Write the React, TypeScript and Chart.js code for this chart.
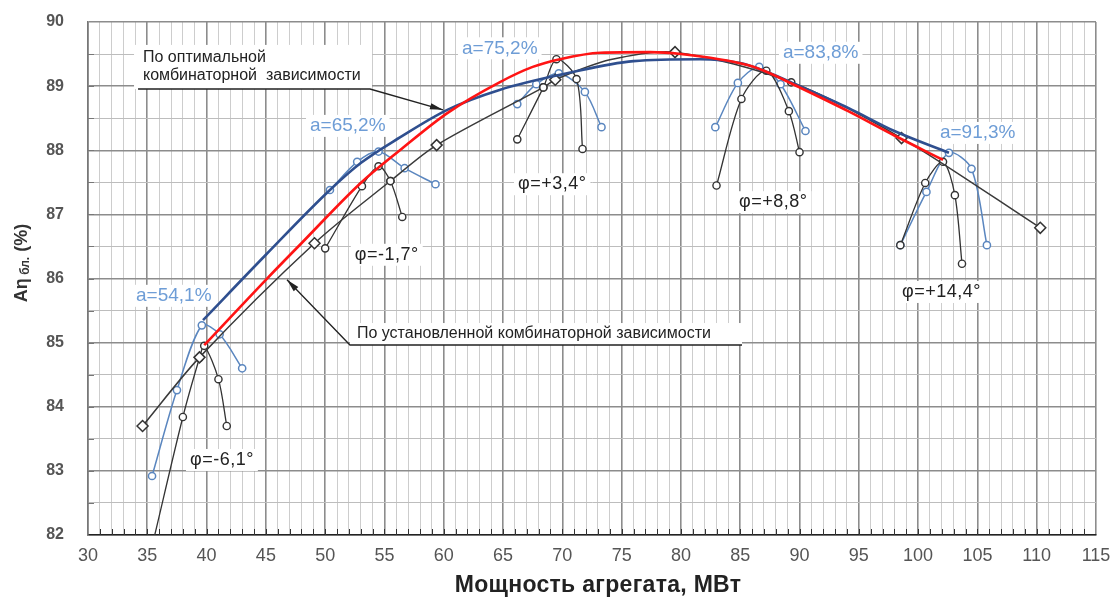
import React, { useEffect, useRef } from 'react';
import { Chart, registerables } from 'chart.js';

Chart.register(...registerables);

// ---- axes ----
const X_MIN = 30;
const X_MAX = 115;
const Y_MIN = 82;
const Y_MAX = 90;

// ---- optimal combinator curve (red) ----
const redX = [39.8, 45, 48, 53, 56.3, 60.3, 64.7, 67.5, 69.8, 73.2, 77.4, 80, 85.6, 87, 90, 94.1, 98, 102.1];
const redY = [84.96, 85.98, 86.55, 87.49, 88.0, 88.58, 89.06, 89.3, 89.42, 89.52, 89.53, 89.5, 89.33, 89.24, 88.98, 88.61, 88.23, 87.85];

// ---- optimal envelope (dark blue) ----
const envX = [39.7, 45, 50.4, 53, 56.3, 60.3, 64.7, 70.4, 76, 81.6, 85, 87, 90, 94.1, 98, 102.6];
const envY = [85.35, 86.37, 87.38, 87.8, 88.2, 88.63, 88.94, 89.2, 89.39, 89.42, 89.36, 89.24, 89.0, 88.66, 88.3, 87.96];

// ---- installed combinator curve (black with diamonds) ----
const instX = [34.6, 39.4, 49.1, 55.5, 59.4, 68.4, 69.4, 74.0, 79.5, 89.3, 98.6, 110.3];
const instY = [83.7, 84.77, 86.55, 87.52, 88.08, 88.98, 89.1, 89.41, 89.53, 89.06, 88.19, 86.79];
const instMarker = ['d', 'd', 'd', 'c', 'd', 'c', 'd', 'n', 'd', 'c', 'd', 'd'];

// ---- propeller-blade angle curves (black) ----
const phiNames = ['φ=-6,1°', 'φ=-1,7°', 'φ=+3,4°', 'φ=+8,8°', 'φ=+14,4°'];
const phiM61X = [35.5, 38.0, 39.4, 39.8, 41.0, 41.7];
const phiM61Y = [81.9, 83.84, 84.76, 84.95, 84.43, 83.7];
const phiM17X = [50.0, 53.1, 54.5, 55.5, 56.5];
const phiM17Y = [86.47, 87.44, 87.75, 87.52, 86.96];
const phiP34X = [66.2, 68.4, 69.5, 71.2, 71.7];
const phiP34Y = [88.17, 88.98, 89.42, 89.11, 88.02];
const phiP88X = [83.0, 85.1, 87.2, 89.1, 90.0];
const phiP88Y = [87.45, 88.8, 89.24, 88.61, 87.97];
const phiP144X = [98.5, 100.6, 102.1, 103.1, 103.7];
const phiP144Y = [86.52, 87.49, 87.82, 87.3, 86.23];

// ---- guide-vane opening curves (blue) ----
const aNames = ['a=54,1%', 'a=65,2%', 'a=75,2%', 'a=83,8%', 'a=91,3%'];
const a541X = [35.4, 37.5, 39.6, 41.1, 43.0];
const a541Y = [82.92, 84.26, 85.27, 85.13, 84.6];
const a652X = [50.4, 52.7, 54.5, 56.7, 59.3];
const a652Y = [87.38, 87.82, 87.98, 87.72, 87.47];
const a752X = [66.2, 67.8, 69.7, 71.9, 73.3];
const a752Y = [88.72, 89.03, 89.2, 88.91, 88.36];
const a838X = [82.9, 84.8, 86.6, 88.4, 90.5];
const a838Y = [88.36, 89.05, 89.3, 89.03, 88.3];
const a913X = [98.5, 100.7, 102.6, 104.5, 105.8];
const a913Y = [86.52, 87.35, 87.96, 87.71, 86.52];

// ---- label anchors (data units) ----
const aLabelX = [34.05, 48.72, 61.54, 88.6, 101.84];
const aLabelY = [85.73, 88.38, 89.59, 89.52, 88.27];
const phiLabelX = [38.6, 52.5, 66.26, 84.9, 98.64];
const phiLabelY = [83.17, 86.37, 87.47, 87.19, 85.79];

const optNoteLines = ['По оптимальной', 'комбинаторной  зависимости'];
const optNoteX = 34.64;
const optNoteY = [89.44, 89.16];
const optLeader = { x1: 34.22, x2: 53.78, y: 88.955, tipX: 59.93, tipY: 88.63 };

const instNote = 'По установленной комбинаторной зависимости';
const instNoteX = 52.68;
const instNoteY = 85.134;
const instLeader = { x1: 52.09, x2: 85.15, y: 84.963, tipX: 46.78, tipY: 85.98 };

const xTitle = 'Мощность агрегата, МВт';

const FONT = "'Liberation Sans', Arial, sans-serif";

const zip = (xs: number[], ys: number[]) => xs.map((x, i) => ({ x, y: ys[i] }));

const BLACK = '#333333';
const BLUE = '#5a86bf';

function phiDataset(xs: number[], ys: number[], hideFirst = false) {
  return {
    data: zip(xs, ys),
    borderColor: BLACK,
    borderWidth: 1.3,
    pointRadius: xs.map((_, i) => (hideFirst && i === 0 ? 0 : 3.6)),
    pointBackgroundColor: '#ffffff',
    pointBorderColor: BLACK,
    pointBorderWidth: 1.4,
    tension: 0.3,
  };
}
function aDataset(xs: number[], ys: number[]) {
  return {
    data: zip(xs, ys),
    borderColor: BLUE,
    borderWidth: 1.5,
    pointRadius: 3.6,
    pointBackgroundColor: '#ffffff',
    pointBorderColor: BLUE,
    pointBorderWidth: 1.5,
    tension: 0.3,
  };
}

function arrow(ctx: CanvasRenderingContext2D, fx: number, fy: number, tx: number, ty: number) {
  const ang = Math.atan2(ty - fy, tx - fx);
  const L = 13;
  const W = 3.2;
  ctx.beginPath();
  ctx.moveTo(tx, ty);
  ctx.lineTo(tx - L * Math.cos(ang) + W * Math.sin(ang), ty - L * Math.sin(ang) - W * Math.cos(ang));
  ctx.lineTo(tx - L * Math.cos(ang) - W * Math.sin(ang), ty - L * Math.sin(ang) + W * Math.cos(ang));
  ctx.closePath();
  ctx.fill();
}

function boxedText(
  ctx: CanvasRenderingContext2D,
  text: string,
  x: number,
  y: number,
  font: string,
  color: string,
  spacing = '0px',
) {
  ctx.font = font;
  (ctx as any).letterSpacing = spacing;
  ctx.textAlign = 'left';
  ctx.textBaseline = 'middle';
  const w = ctx.measureText(text).width;
  ctx.fillStyle = '#ffffff';
  ctx.fillRect(x - 4, y - 11, w + 8, 22);
  ctx.fillStyle = color;
  ctx.fillText(text, x, y);
  (ctx as any).letterSpacing = '0px';
}

const decorPlugin = {
  id: 'decor',
  beforeDatasetsDraw(chart: any) {
    const { ctx, chartArea, scales } = chart;
    const sx = scales.x;
    const sy = scales.y;
    ctx.save();
    // inner tick marks
    ctx.strokeStyle = '#333';
    ctx.lineWidth = 1;
    for (let v = X_MIN + 1; v < X_MAX; v++) {
      const px = Math.round(sx.getPixelForValue(v)) + 0.5;
      ctx.beginPath();
      ctx.moveTo(px, chartArea.bottom);
      ctx.lineTo(px, chartArea.bottom - 6);
      ctx.stroke();
    }
    ctx.strokeStyle = '#777';
    for (let v = Y_MIN + 0.5; v < Y_MAX; v += 0.5) {
      const py = Math.round(sy.getPixelForValue(v)) + 0.5;
      ctx.beginPath();
      ctx.moveTo(chartArea.left, py);
      ctx.lineTo(chartArea.left + 6, py);
      ctx.stroke();
    }

    // blue "a=" labels
    aNames.forEach((t, i) => {
      boxedText(ctx, t, sx.getPixelForValue(aLabelX[i]), sy.getPixelForValue(aLabelY[i]), `19px ${FONT}`, '#6e9dd6');
    });
    // phi labels
    phiNames.forEach((t, i) => {
      boxedText(ctx, t, sx.getPixelForValue(phiLabelX[i]), sy.getPixelForValue(phiLabelY[i]), `18px ${FONT}`, '#222', '0.5px');
    });

    // optimal note box
    ctx.font = `16px ${FONT}`;
    const ox = sx.getPixelForValue(optNoteX);
    const oy0 = sy.getPixelForValue(optNoteY[0]);
    const oy1 = sy.getPixelForValue(optNoteY[1]);
    const lx1 = sx.getPixelForValue(optLeader.x1);
    const lx2 = sx.getPixelForValue(optLeader.x2);
    const ly = sy.getPixelForValue(optLeader.y);
    ctx.fillStyle = '#ffffff';
    ctx.fillRect(lx1 - 4, oy0 - 13, lx2 - lx1 + 6, ly - oy0 + 13);
    ctx.fillStyle = '#222';
    ctx.textAlign = 'left';
    ctx.textBaseline = 'middle';
    ctx.fillText(optNoteLines[0], ox, oy0);
    ctx.fillText(optNoteLines[1], ox, oy1);

    // installed note box
    const ix = sx.getPixelForValue(instNoteX);
    const iy = sy.getPixelForValue(instNoteY);
    const ilx1 = sx.getPixelForValue(instLeader.x1);
    const ilx2 = sx.getPixelForValue(instLeader.x2);
    const ily = sy.getPixelForValue(instLeader.y);
    ctx.fillStyle = '#ffffff';
    ctx.fillRect(ilx1, iy - 11, ilx2 - ilx1, ily - iy + 11);
    ctx.fillStyle = '#222';
    ctx.fillText(instNote, ix, iy);
    ctx.restore();
  },
  afterDatasetsDraw(chart: any) {
    const { ctx, scales } = chart;
    const sx = scales.x;
    const sy = scales.y;
    ctx.save();
    ctx.strokeStyle = '#222';
    ctx.fillStyle = '#222';
    ctx.lineWidth = 1.3;
    // optimal leader
    {
      const x1 = sx.getPixelForValue(optLeader.x1);
      const x2 = sx.getPixelForValue(optLeader.x2);
      const y = sy.getPixelForValue(optLeader.y);
      const tx = sx.getPixelForValue(optLeader.tipX);
      const ty = sy.getPixelForValue(optLeader.tipY);
      ctx.beginPath();
      ctx.moveTo(x1, y);
      ctx.lineTo(x2, y);
      ctx.lineTo(tx, ty);
      ctx.stroke();
      arrow(ctx, x2, y, tx, ty);
    }
    // installed leader
    {
      const x1 = sx.getPixelForValue(instLeader.x1);
      const x2 = sx.getPixelForValue(instLeader.x2);
      const y = sy.getPixelForValue(instLeader.y);
      const tx = sx.getPixelForValue(instLeader.tipX);
      const ty = sy.getPixelForValue(instLeader.tipY);
      ctx.beginPath();
      ctx.moveTo(x2, y);
      ctx.lineTo(x1, y);
      ctx.lineTo(tx, ty);
      ctx.stroke();
      arrow(ctx, x1, y, tx, ty);
    }
    ctx.restore();
  },
  afterDraw(chart: any) {
    const { ctx, chartArea } = chart;
    ctx.save();
    // x title
    ctx.font = `bold 23px ${FONT}`;
    (ctx as any).letterSpacing = '0.3px';
    ctx.fillStyle = '#222';
    ctx.textAlign = 'center';
    ctx.textBaseline = 'middle';
    ctx.fillText(xTitle, (chartArea.left + chartArea.right) / 2 + 6, 586);
    (ctx as any).letterSpacing = '0px';
    // y title with subscript
    ctx.translate(22, 263);
    ctx.rotate(-Math.PI / 2);
    const parts = [
      { t: 'Aη', f: `bold 18px ${FONT}`, dy: 0 },
      { t: ' бл.', f: `bold 12px ${FONT}`, dy: 4 },
      { t: ' (%)', f: `bold 18px ${FONT}`, dy: 0 },
    ];
    let total = 0;
    parts.forEach((p) => {
      ctx.font = p.f;
      total += ctx.measureText(p.t).width;
    });
    let cx = -total / 2;
    ctx.textAlign = 'left';
    ctx.fillStyle = '#333';
    parts.forEach((p) => {
      ctx.font = p.f;
      ctx.fillText(p.t, cx, p.dy);
      cx += ctx.measureText(p.t).width;
    });
    ctx.restore();
  },
};

const zeroPad = (s: any) => {
  s.paddingTop = 0;
  s.paddingBottom = 0;
  s.paddingLeft = 0;
  s.paddingRight = 0;
};

export default function App() {
  const ref = useRef<HTMLCanvasElement>(null);
  useEffect(() => {
    document.body.style.margin = '0';
    const instRadius = instMarker.map((m) => (m === 'd' ? 5.5 : m === 'c' ? 3.6 : 0));
    const instStyle = instMarker.map((m) => (m === 'd' ? 'rectRot' : 'circle'));
    const chart = new Chart(ref.current as HTMLCanvasElement, {
      type: 'line',
      data: {
        datasets: [
          {
            data: zip(redX, redY),
            borderColor: '#ff1414',
            borderWidth: 2.6,
            pointRadius: 0,
            cubicInterpolationMode: 'monotone',
          },
          {
            data: zip(envX, envY),
            borderColor: '#2f4f8f',
            borderWidth: 2.6,
            pointRadius: 0,
            cubicInterpolationMode: 'monotone',
          },
          {
            data: zip(instX, instY),
            borderColor: '#3a3a3a',
            borderWidth: 1.5,
            pointRadius: instRadius,
            pointStyle: instStyle,
            pointBackgroundColor: '#ffffff',
            pointBorderColor: '#333',
            pointBorderWidth: 1.5,
            tension: 0.3,
          },
          phiDataset(phiM61X, phiM61Y, true),
          phiDataset(phiM17X, phiM17Y),
          phiDataset(phiP34X, phiP34Y),
          phiDataset(phiP88X, phiP88Y),
          phiDataset(phiP144X, phiP144Y),
          aDataset(a541X, a541Y),
          aDataset(a652X, a652Y),
          aDataset(a752X, a752Y),
          aDataset(a838X, a838Y),
          aDataset(a913X, a913Y),
        ] as any,
      },
      options: {
        animation: false,
        responsive: false,
        devicePixelRatio: 1,
        layout: { padding: { left: 0, top: 22, right: 14, bottom: 0 } },
        plugins: { legend: { display: false }, tooltip: { enabled: false } },
        events: [],
        scales: {
          x: {
            type: 'linear',
            min: X_MIN,
            max: X_MAX,
            afterFit: (s: any) => {
              s.height = 63;
              zeroPad(s);
            },
            ticks: {
              stepSize: 1,
              maxTicksLimit: 200,
              autoSkip: false,
              maxRotation: 0,
              padding: 10,
              color: '#555',
              font: { family: FONT, size: 18 },
              callback: (v: any) => (Number(v) % 5 === 0 ? String(v) : ''),
            },
            grid: {
              drawTicks: false,
              color: (c: any) => (c.tick && c.tick.value % 5 === 0 ? '#8c8c8c' : '#cdcdcd'),
              lineWidth: (c: any) => (c.tick && c.tick.value % 5 === 0 ? 1.6 : 1),
            },
            border: { display: true, color: '#222', width: 1.6 },
          },
          y: {
            type: 'linear',
            min: Y_MIN,
            max: Y_MAX,
            afterFit: (s: any) => {
              s.width = 88;
              zeroPad(s);
            },
            ticks: {
              stepSize: 0.5,
              maxTicksLimit: 100,
              autoSkip: false,
              padding: 24,
              color: '#555',
              font: { family: FONT, size: 16, weight: 'bold' },
              callback: (v: any) => (Number.isInteger(Number(v)) ? String(v) : ''),
            },
            grid: {
              drawTicks: false,
              color: (c: any) => (c.tick && Number.isInteger(c.tick.value) ? '#8c8c8c' : '#bdbdbd'),
              lineWidth: (c: any) => (c.tick && Number.isInteger(c.tick.value) ? 1.4 : 1),
            },
            border: { display: true, color: '#777', width: 1.6 },
          },
        },
      } as any,
      plugins: [decorPlugin],
    });
    return () => chart.destroy();
  }, []);
  return (
    <div style={{ position: 'absolute', left: 0, top: 0, width: 1110, height: 598 }}>
      <canvas ref={ref} width={1110} height={598} style={{ width: 1110, height: 598, display: 'block' }} />
    </div>
  );
}
